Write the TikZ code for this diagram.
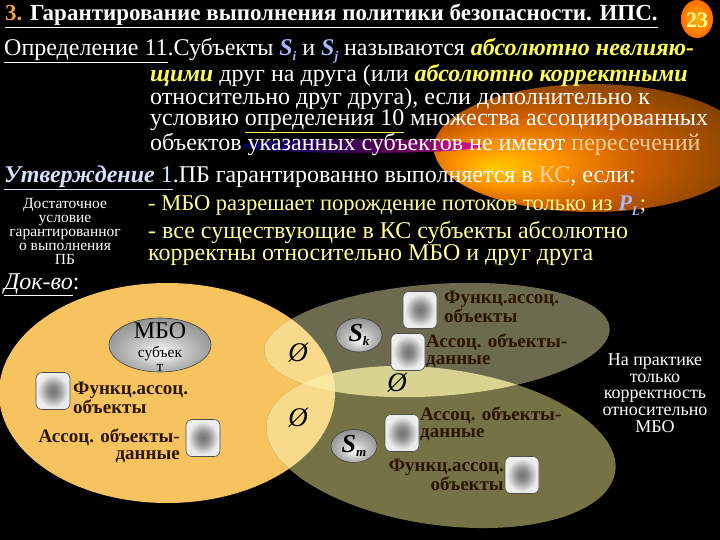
\documentclass[tikz,border=0pt]{standalone}
\usepackage{fontspec}
\setmainfont{Liberation Serif}
\usetikzlibrary{shapes.geometric}
\definecolor{ttlor}{HTML}{F0A040}
\definecolor{yl}{HTML}{FFFF55}
\definecolor{ylp}{HTML}{FFFF9A}
\definecolor{sblue}{HTML}{A8B8FF}
\definecolor{stm}{HTML}{D8E0FF}
\definecolor{peach}{HTML}{FFCFA0}
\definecolor{cO}{HTML}{F6C35F}
\definecolor{cU}{HTML}{6C6A4F}
\definecolor{cL}{HTML}{757246}
\definecolor{cOU}{HTML}{F8DA8C}
\definecolor{cUL}{HTML}{D7D491}
\definecolor{cOUL}{HTML}{FBE9A0}
\definecolor{lbl}{HTML}{2A1500}
\pgfdeclareradialshading{iconshade}{\pgfpoint{0bp}{0bp}}{color(0bp)=(black!55); color(8bp)=(black!45); color(22bp)=(white!92!black); color(50bp)=(white)}
\pgfdeclareradialshading{ballshade}{\pgfpoint{0bp}{-8bp}}{color(0bp)=(white); color(14bp)=(black!25); color(30bp)=(black!45); color(50bp)=(black!60)}
\pgfdeclareradialshading{glowshade}{\pgfpoint{-16bp}{-8bp}}{color(0bp)=(yellow!60!orange); color(8bp)=(orange!85!yellow); color(18bp)=(orange!90!red!80!black); color(30bp)=(orange!55!black); color(44bp)=(orange!25!black); color(52bp)=(black)}
\pgfdeclarehorizontalshading{streak}{100bp}{color(0bp)=(black); color(25bp)=(blue!45!black); color(55bp)=(violet!70!black); color(80bp)=(magenta!70!red); color(100bp)=(orange!90!red)}
\newcommand\subS[2]{{\bfseries\itshape #1\raisebox{-0.4ex}{\fontsize{13}{13}\selectfont #2}}}
\newcommand\ellO{(167,393) ellipse [x radius=168, y radius=110]}
\newcommand\ellU{[rotate around={4:(437,340)}] (437,340) ellipse [x radius=173, y radius=56]}
\newcommand\ellL{[rotate around={-8:(441,447)}] (441,447) ellipse [x radius=176, y radius=78]}
\newcommand\topstrut{\rule{0pt}{18pt}}
\tikzset{
  body/.style={anchor=base west, inner sep=0, text=white, font=\fontsize{24}{21.5}\selectfont},
  bodyblock/.style={anchor=north west, inner sep=0, align=left, text=white, font=\fontsize{24}{21.5}\selectfont},
  lab/.style={inner sep=0, text=lbl, font=\fontsize{19}{17}\selectfont\bfseries},
  icon/.style={rectangle, rounded corners=6, minimum width=34, minimum height=37, draw=black!70, line width=0.6, shading=iconshade},
  ball/.style={ellipse, draw=black!75, line width=0.6, shading=ballshade, inner sep=0},
  empt/.style={inner sep=0, text=black, font=\fontsize{27}{27}\selectfont\itshape}
}
\begin{document}
\begin{tikzpicture}[x=1pt,y=-1pt]
\fill[black] (0,0) rectangle (720,540);
\useasboundingbox (0,0) rectangle (720,540);
% glow
\shade[shading=glowshade] (592,148) ellipse [x radius=158, y radius=64];
\shade[shading=streak, opacity=0.9] (362,146) ellipse [x radius=120, y radius=7];
% title
\node[anchor=base west, inner sep=0, text=white, font=\fontsize{23}{23}\selectfont\bfseries] (title) at (5,21)
  {\underline{\textcolor{ttlor}{3.} Гарантирование выполнения политики безопасности. ИПС.}};
\shade[inner color=orange!60!yellow, outer color=orange!85!red] (697,19) ellipse [x radius=16, y radius=19];
\node[inner sep=0, text=yellow!40, font=\fontsize{22}{22}\selectfont\bfseries] (num) at (697,20) {23};
% definition
\node[body] (d1) at (4,56) {\underline{Определение 11}.Субъекты \textcolor{sblue}{\subS{S}{i}} и \textcolor{sblue}{\subS{S}{j}} называются \textcolor{yl}{\bfseries\itshape абсолютно невлияю-}};
\node[bodyblock] (d2) at (150,63) {\topstrut\textcolor{yl}{\bfseries\itshape щими} друг на друга (или \textcolor{yl}{\bfseries\itshape абсолютно корректными}\\
  относительно друг друга), если дополнительно к\\
  условию \textcolor{yl}{\underline{\textcolor{white}{определения 10}}} множества ассоциированных\\
  объектов указанных субъектов не имеют \textcolor{peach}{пересечений}};
% statement
\node[body] (s1) at (4,183) {\textcolor{stm}{\underline{{\bfseries\itshape Утверждение} 1}}.ПБ гарантированно выполняется в \textcolor{peach}{КС}, если:};
\node[body, text=ylp, font=\fontsize{22.5}{21}\selectfont] (s2) at (148,211) {- МБО разрешает порождение потоков только из \textcolor{sblue}{\subS{P}{L}};};
\node[bodyblock, text=ylp, font=\fontsize{24}{19.5}\selectfont] (s3) at (148,220) {\topstrut- все существующие в КС субъекты абсолютно\\корректны относительно МБО и друг друга};
\node[anchor=north, align=center, inner sep=0, text=white, font=\fontsize{15.5}{14}\selectfont] (cond) at (65,198)
  {Достаточное\\условие\\гарантированног\\о выполнения\\ПБ};
\node[body] (proof) at (4,289) {\underline{\itshape Док-во}:};
% ellipses
\fill[cO] \ellO;
\fill[cU] \ellU;
\fill[cL] \ellL;
\begin{scope}\clip \ellO; \fill[cOU] \ellU; \fill[cOU] \ellL; \end{scope}
\begin{scope}\clip \ellU; \fill[cUL] \ellL; \end{scope}
\begin{scope}\clip \ellO; \clip \ellU; \fill[cOUL] \ellL; \end{scope}
% MBO
\node[ball, minimum width=102, minimum height=54] (mbo) at (160,345) {};
\node[inner sep=0, text=black, font=\fontsize{24}{24}\selectfont] (mbot) at (160,331) {МБО};
\node[anchor=north, align=center, inner sep=0, text=black, font=\fontsize{15.5}{14}\selectfont] (mbos) at (160,346) {субъек\\т};
% left icons
\node[icon] (i1) at (53,391) {};
\node[lab, anchor=west, align=left] (t1) at (73,398) {Функц.ассоц.\\объекты};
\node[icon] (i2) at (203,438) {};
\node[lab, anchor=east, align=right] (t2) at (180,446) {Ассоц. объекты-\\данные};
% subjects
\node[ball, minimum width=46, minimum height=34] (sk) at (359,335) {\fontsize{26}{26}\selectfont\subS{S}{k}};
\node[ball, minimum width=46, minimum height=33] (sm) at (354,446) {\fontsize{26}{26}\selectfont\subS{S}{m}};
\node[icon] (i3) at (420,310) {};
\node[lab, anchor=west, align=left] (t3) at (444,307) {Функц.ассоц.\\объекты};
\node[icon] (i4) at (408,352) {};
\node[lab, anchor=west, align=left] (t4) at (426,351) {Ассоц. объекты-\\данные};
\node[icon] (i5) at (402,433) {};
\node[lab, anchor=west, align=left] (t5) at (420,424) {Ассоц. объекты-\\данные};
\node[icon] (i6) at (522,475) {};
\node[lab, anchor=east, align=right] (t6) at (504,475) {Функц.ассоц.\\объекты};
% empty sets
\node[empt] (e1) at (298,353) {Ø};
\node[empt] (e2) at (298,418) {Ø};
\node[empt] (e3) at (397,383) {Ø};
% right note
\node[align=center, inner sep=0, text=white, font=\fontsize{18}{16.8}\selectfont] (note) at (655,393)
  {На практике\\только\\корректность\\относительно\\МБО};
\end{tikzpicture}
\end{document}
